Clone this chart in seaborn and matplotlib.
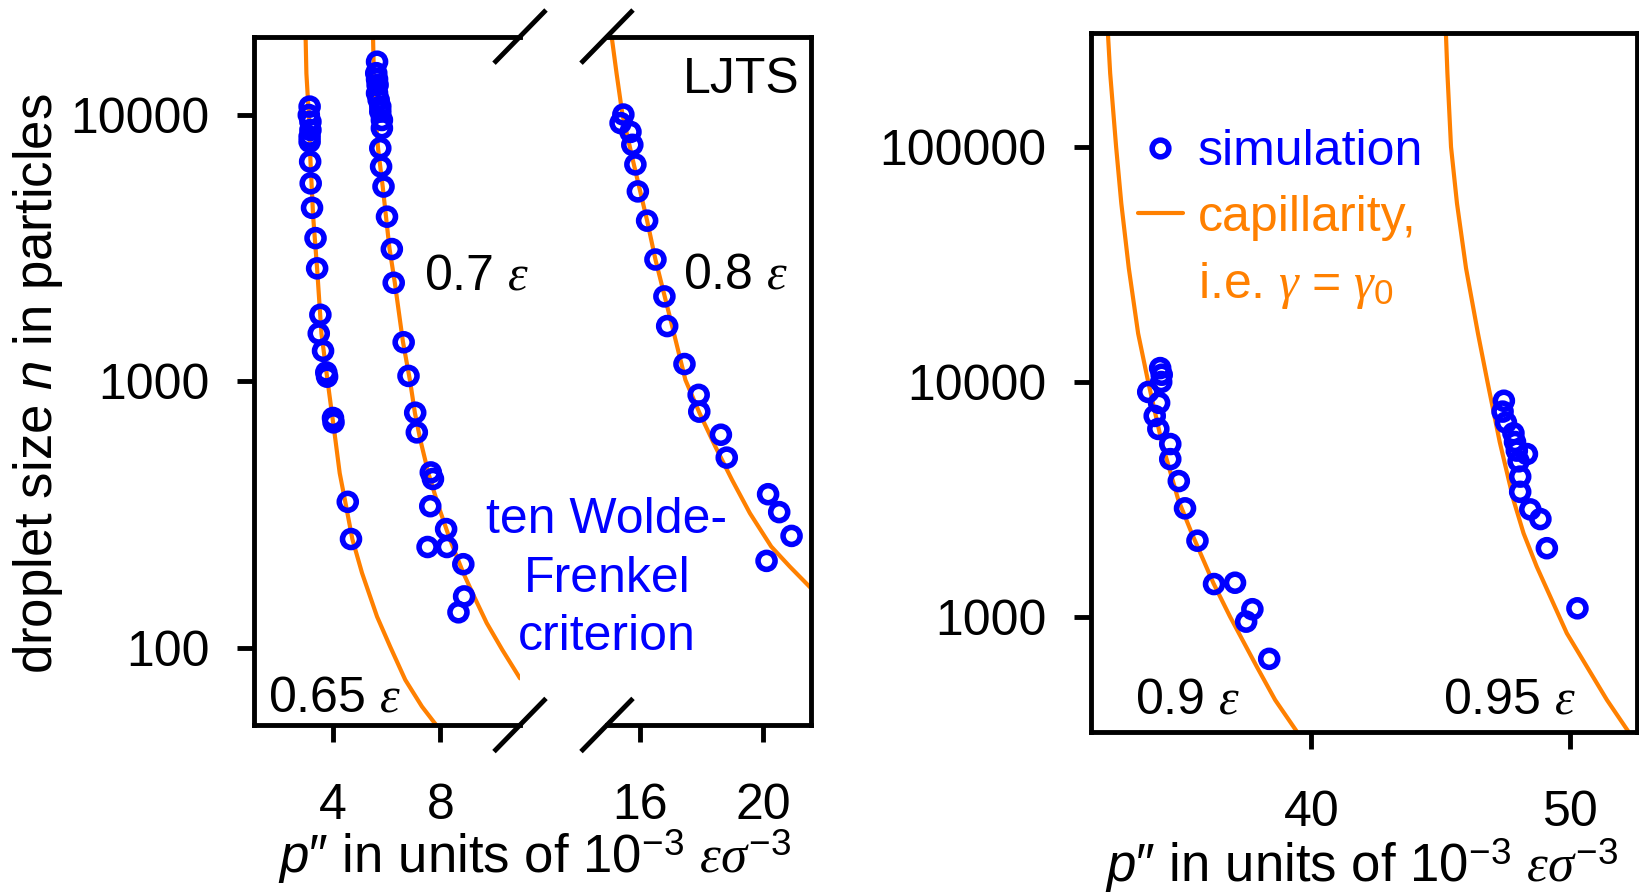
import matplotlib
matplotlib.use("Agg")
import matplotlib.pyplot as plt
import seaborn as sns
from matplotlib.lines import Line2D
from matplotlib.ticker import NullLocator

# ---------------- data ----------------
# simulation points: pressure p'' (1e-3 eps/sigma^3) and droplet size n
sim065_p = [3.13, 3.10, 3.16, 3.16, 3.13, 3.13, 3.15, 3.17, 3.22, 3.35, 3.41, 3.53, 3.47,
            3.63, 3.75, 3.78, 4.00, 4.02, 4.55, 4.67]
sim065_n = [10710, 9960, 9400, 8750, 8260, 7910, 6660, 5520, 4470, 3440, 2650, 1775, 1510,
            1300, 1079, 1040, 728, 701, 353, 256]

sim07_p = [5.64, 5.61, 5.64, 5.66, 5.64, 5.70, 5.76, 5.76, 5.82, 5.82, 5.76, 5.79, 5.88,
           6.01, 6.19, 6.26, 6.63, 6.81, 7.06, 7.12, 7.64, 7.72, 7.62, 8.21, 7.52, 8.24,
           8.85, 8.88, 8.67]
sim07_n = [15780, 14290, 13560, 12910, 12020, 11350, 10720, 10260, 9540, 8890, 7480, 6380,
           5370, 4140, 3130, 2340, 1400, 1047, 762, 643, 455, 430, 340, 279, 239, 239, 206,
           156, 136]

sim08_p = [15.46, 15.37, 15.69, 15.75, 15.85, 15.93, 16.23, 16.50, 16.79, 16.88, 17.44,
           17.90, 17.92, 18.62, 18.81, 20.15, 20.51, 20.91, 20.10]
sim08_n = [10000, 9290, 8610, 7700, 6500, 5150, 4000, 2860, 2080, 1610, 1160, 889, 769, 630,
           517, 377, 323, 263, 212]

sim09_p = [34.16, 34.22, 34.20, 33.70, 34.12, 33.95, 34.09, 34.55, 34.55, 34.88, 35.12,
           35.60, 36.24, 37.05, 37.72, 37.48, 38.37]
sim09_n = [11480, 10760, 10020, 9090, 8170, 7190, 6330, 5460, 4710, 3800, 2910, 2120, 1387,
           1405, 1084, 960, 667]

sim095_p = [47.43, 47.38, 47.51, 47.80, 47.86, 47.93, 48.32, 48.00, 48.06, 48.06, 48.45,
            48.84, 49.09, 50.27]
sim095_n = [8340, 7500, 6740, 6070, 5570, 5120, 4950, 4610, 3970, 3420, 2880, 2620, 1970,
            1094]

# capillarity curves (gamma = gamma_0)
cap065_p = [2.98, 3.01, 3.10, 3.16, 3.26, 3.41, 3.57, 3.80, 4.09, 4.25, 4.45, 4.72, 5.08,
            5.64, 6.13, 6.69, 7.31, 7.84]
cap065_n = [19630, 14260, 10000, 6761, 4169, 2630, 1510, 1000, 603, 452, 356, 256, 191,
            131, 101, 75.9, 60.3, 51.4]

cap07_p = [5.49, 5.52, 5.58, 5.68, 5.85, 6.10, 6.30, 6.60, 6.87, 7.05, 7.25, 7.55, 7.93,
           8.36, 8.85, 9.25, 9.72, 10.30, 10.96]
cap07_n = [19630, 14130, 10000, 7413, 5370, 3162, 2344, 1413, 1000, 759, 603, 452, 339,
           254, 191, 156, 124, 98.4, 76.9]

cap08_p = [15.08, 15.24, 15.43, 15.80, 16.23, 16.50, 17.04, 17.47, 17.93, 18.44, 18.98,
           19.56, 20.25, 20.85, 21.54]
cap08_n = [19630, 14260, 10000, 6501, 4000, 2858, 1611, 1012, 759, 569, 427, 320, 240,
           202, 167.5]

cap09_p = [32.14, 32.23, 32.46, 32.66, 32.95, 33.31, 33.70, 34.22, 34.86, 35.38, 36.22,
           36.86, 37.89, 38.60, 39.44]
cap09_n = [308300, 205600, 100000, 57540, 30480, 16110, 10000, 5572, 3162, 2280, 1396,
           1007, 618, 446, 327]

cap095_p = [45.19, 45.25, 45.39, 45.62, 45.97, 46.43, 46.80, 47.27, 47.80, 48.19, 48.70,
            49.86, 51.41, 52.24]
cap095_n = [308300, 205600, 100000, 57540, 30480, 16110, 10000, 5572, 3162, 2280, 1644,
            857, 446, 327]

left_xticks_a = [4, 8]
left_xticks_b = [16, 20]
left_yticks = [100, 1000, 10000]
right_xticks = [40, 50]
right_yticks = [1000, 10000, 100000]

# ---------------- style ----------------
sns.set_theme(style="ticks")
plt.rcParams["font.family"] = ["Liberation Sans", "DejaVu Sans"]
plt.rcParams["mathtext.fontset"] = "custom"
plt.rcParams["mathtext.rm"] = "Liberation Sans"
plt.rcParams["mathtext.it"] = "Liberation Serif:italic"
plt.rcParams["mathtext.sf"] = "Liberation Sans:italic"
plt.rcParams["text.color"] = "black"

BLUE = "#0000ff"
ORANGE = "#ff8000"
FS = 36
LFS = 38
SPW = 3.5

fig = plt.figure(figsize=(16.4, 8.92), dpi=100)
W, H = 1640.0, 892.0


def fx(px):
    return px / W


def fy(py):
    return 1 - py / H


ax1 = fig.add_axes([fx(254), fy(725), fx(520) - fx(254), fy(36.6) - fy(725)])
ax2 = fig.add_axes([fx(607), fy(725), fx(811) - fx(607), fy(36.6) - fy(725)])
ax3 = fig.add_axes([fx(1091), fy(732), fx(1637) - fx(1091), fy(33) - fy(732)])


def draw(ax, sims, caps):
    for p, n in caps:
        sns.lineplot(x=p, y=n, ax=ax, color=ORANGE, lw=3.0, sort=False,
                     estimator=None, legend=False)
    for p, n in sims:
        sns.scatterplot(x=p, y=n, ax=ax, marker="o", s=150, linewidth=4.0,
                        legend=False)
        coll = ax.collections[-1]
        coll.set_facecolor("none")
        coll.set_edgecolor(BLUE)
        coll.set_linewidth(4.0)
        coll.set_zorder(3)


draw(ax1, [(sim065_p, sim065_n), (sim07_p, sim07_n)],
     [(cap065_p, cap065_n), (cap07_p, cap07_n)])
draw(ax2, [(sim08_p, sim08_n)], [(cap08_p, cap08_n)])
draw(ax3, [(sim09_p, sim09_n), (sim095_p, sim095_n)],
     [(cap09_p, cap09_n), (cap095_p, cap095_n)])

for ax in (ax1, ax2, ax3):
    ax.set_yscale("log")
    ax.set_xlabel("")
    ax.set_ylabel("")
    for s in ax.spines.values():
        s.set_linewidth(SPW)
        s.set_color("black")
    ax.tick_params(axis="both", which="major", direction="out", length=12,
                   width=SPW, color="black", labelsize=FS, labelcolor="black")
    ax.tick_params(axis="x", pad=30)
    ax.tick_params(axis="y", pad=20)
    ax.set_facecolor("white")

ylim_left = (51.4, 19600)
ax1.set_xlim(1.06, 10.96)
ax2.set_xlim(14.93, 21.54)
ax1.set_ylim(*ylim_left)
ax2.set_ylim(*ylim_left)
ax3.set_xlim(31.49, 52.57)
ax3.set_ylim(326, 305000)

ax1.set_xticks(left_xticks_a)
ax1.set_xticklabels([str(t) for t in left_xticks_a])
ax2.set_xticks(left_xticks_b)
ax2.set_xticklabels([str(t) for t in left_xticks_b])
ax1.set_yticks(left_yticks)
ax1.set_yticklabels([str(t) for t in left_yticks])
ax2.set_yticks([])
ax3.set_xticks(right_xticks)
ax3.set_xticklabels([str(t) for t in right_xticks])
ax3.set_yticks(right_yticks)
ax3.set_yticklabels([str(t) for t in right_yticks])
for ax in (ax1, ax2, ax3):
    ax.yaxis.set_minor_locator(NullLocator())
    ax.xaxis.set_minor_locator(NullLocator())

ax1.spines["right"].set_visible(False)
ax2.spines["left"].set_visible(False)
ax2.tick_params(axis="y", left=False, labelleft=False)

# axis break marks
for cx in (520, 607):
    for cy in (36.6, 725):
        fig.add_artist(Line2D([fx(cx - 26), fx(cx + 26)],
                              [fy(cy + 26.6), fy(cy - 26.6)],
                              transform=fig.transFigure, color="black", lw=SPW,
                              solid_capstyle="butt"))

EPS = r"$\mathit{ε}$"
K = "black"
# annotations in left panel (baselines in figure pixels)
fig.text(fx(268), fy(712), "0.65 " + EPS, fontsize=FS, ha="left", va="baseline", color=K)
fig.text(fx(424), fy(290), "0.7 " + EPS, fontsize=FS, ha="left", va="baseline", color=K)
fig.text(fx(683), fy(288.5), "0.8 " + EPS, fontsize=FS, ha="left", va="baseline", color=K)
fig.text(fx(800), fy(93), "LJTS", fontsize=FS, ha="right", va="baseline", color=K)

for line, base in zip(["ten Wolde-", "Frenkel", "criterion"], [533.4, 591.8, 650.0]):
    fig.text(fx(607), fy(base), line, fontsize=FS, color=BLUE, ha="center",
             va="baseline")

# annotations in right panel
fig.text(fx(1135), fy(713), "0.9 " + EPS, fontsize=FS, ha="left", va="baseline", color=K)
fig.text(fx(1443), fy(713), "0.95 " + EPS, fontsize=FS, ha="left", va="baseline", color=K)

# legend
h_sim = Line2D([], [], marker="o", ls="", mfc="none", mec=BLUE, mew=4.0, ms=12)
h_cap = Line2D([], [], color=ORANGE, lw=3.0)
h_blank = Line2D([], [], ls="", marker=None)
ax3.legend([h_sim, h_cap, h_blank],
           ["simulation", "capillarity,", r"i.e. $\mathit{γ}\,=\,\mathit{γ}_0$"],
           loc="upper left", bbox_to_anchor=(0.086, 0.862), frameon=False,
           fontsize=FS, handlelength=0.9, handletextpad=0.3, labelspacing=0.39,
           borderpad=0, borderaxespad=0, labelcolor=[BLUE, ORANGE, ORANGE])

# axis titles
XL = r"$\mathsf{p}$″ in units of $10^{-3}$ $\mathit{εσ}^{-3}$"
fig.text(fx(535), fy(873), XL, fontsize=LFS, ha="center", va="baseline", color=K)
fig.text(fx(1362), fy(882), XL, fontsize=LFS, ha="center", va="baseline", color=K)
fig.text(fx(38), fy(384), r"droplet size $\mathsf{n}$ in particles", fontsize=LFS,
         rotation=90, ha="center", va="center", color=K)

fig.savefig("out.png", dpi=100)
